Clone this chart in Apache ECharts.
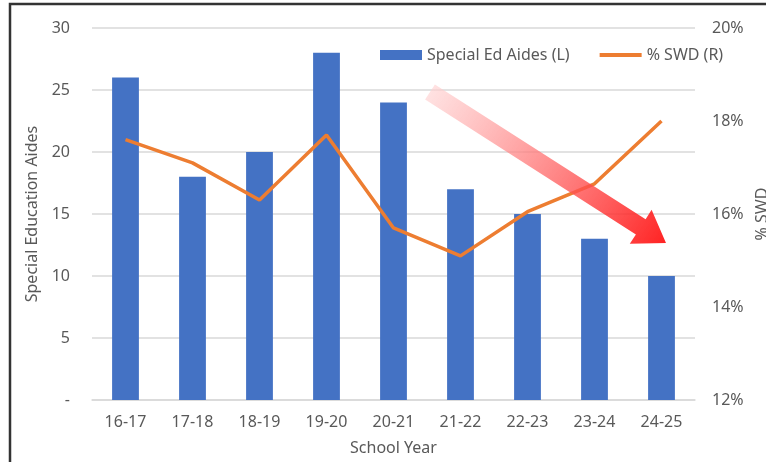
<!DOCTYPE html>
<html>
<head>
<meta charset="utf-8">
<script src="https://cdn.jsdelivr.net/npm/echarts@6/dist/echarts.min.js"></script>
<style>
  html, body { margin: 0; padding: 0; background: #fff; }
  #chart { width: 766px; height: 462px; }
</style>
</head>
<body>
<div id="chart"></div>
<script>
// School years on the category axis
const schoolYears = ['16-17', '17-18', '18-19', '19-20', '20-21', '21-22', '22-23', '23-24', '24-25'];
// Special education aides per year (left axis)
const aides = [26, 18, 20, 28, 24, 17, 15, 13, 10];
// Share of students with disabilities, in percent (right axis)
const swdPct = [17.6, 17.1, 16.3, 17.7, 15.7, 15.1, 16.05, 16.65, 18.0];

const textColor = '#595959';
const fontFamily = '"Noto Sans", "Open Sans", sans-serif';

const chart = echarts.init(document.getElementById('chart'), null, { renderer: 'canvas' });

// Downward trend arrow with a fading gradient
const arrowPoints = [
  [425.1, 99.6], [434.9, 84.4], [645.6, 219.2], [651.6, 209.8],
  [666, 243], [629.8, 243.8], [635.9, 234.4]
];

chart.setOption({
  animation: false,
  textStyle: { fontFamily: fontFamily, color: textColor },
  grid: { left: 92, right: 71, top: 28, bottom: 62, outerBoundsMode: 'none', containLabel: false },
  legend: {
    top: 47,
    left: 380,
    padding: 0,
    itemWidth: 42,
    itemHeight: 10,
    itemGap: 28,
    textStyle: { fontSize: 16, color: textColor, fontFamily: fontFamily },
    data: [
      { name: 'Special Ed Aides (L)', icon: 'rect' },
      { name: '% SWD (R)', itemStyle: { opacity: 0 }, lineStyle: { width: 4 } }
    ]
  },
  xAxis: {
    type: 'category',
    data: schoolYears,
    name: 'School Year',
    nameLocation: 'middle',
    nameGap: 40,
    nameTextStyle: { fontSize: 16, color: textColor },
    axisLine: { lineStyle: { color: '#d9d9d9', width: 1.5 } },
    axisTick: { show: false },
    axisLabel: { fontSize: 16, color: textColor, margin: 14 }
  },
  yAxis: [
    {
      type: 'value',
      min: 0, max: 30, interval: 5,
      name: 'Special Education Aides',
      nameLocation: 'middle',
      nameGap: 50,
      nameTextStyle: { fontSize: 16, color: textColor },
      axisLine: { show: false },
      axisTick: { show: false },
      axisLabel: {
        fontSize: 16, color: textColor, margin: 22,
        formatter: v => (v === 0 ? '-' : String(v))
      },
      splitLine: { lineStyle: { color: '#d9d9d9', width: 1.5 } }
    },
    {
      type: 'value',
      min: 12, max: 20, interval: 2,
      position: 'right',
      name: '% SWD',
      nameLocation: 'middle',
      nameGap: 56,
      nameRotate: 90,
      nameTextStyle: { fontSize: 16, color: textColor },
      axisLine: { show: false },
      axisTick: { show: false },
      axisLabel: { fontSize: 16, color: textColor, margin: 17, formatter: '{value}%' },
      splitLine: { show: false }
    }
  ],
  series: [
    {
      name: 'Special Ed Aides (L)',
      type: 'bar',
      yAxisIndex: 0,
      data: aides,
      barWidth: '40%',
      itemStyle: { color: '#4472C4' }
    },
    {
      name: '% SWD (R)',
      type: 'line',
      yAxisIndex: 1,
      data: swdPct,
      symbol: 'none',
      lineStyle: { color: '#ED7D31', width: 3.5 },
      itemStyle: { color: '#ED7D31' }
    }
  ],
  graphic: [
    {
      type: 'rect',
      silent: true,
      z: 100,
      shape: { x: 10, y: 4, width: 780, height: 480 },
      style: { fill: 'none', stroke: '#333333', lineWidth: 2.5 }
    },
    {
      type: 'polygon',
      silent: true,
      z: 90,
      shape: { points: arrowPoints },
      style: {
        opacity: 0.9,
        fill: new echarts.graphic.LinearGradient(0, 0, 1, 1, [
          { offset: 0, color: 'rgba(255,215,215,0.7)' },
          { offset: 0.5, color: 'rgba(255,110,110,0.85)' },
          { offset: 1, color: 'rgba(255,10,10,1)' }
        ])
      }
    }
  ]
});
</script>
</body>
</html>
